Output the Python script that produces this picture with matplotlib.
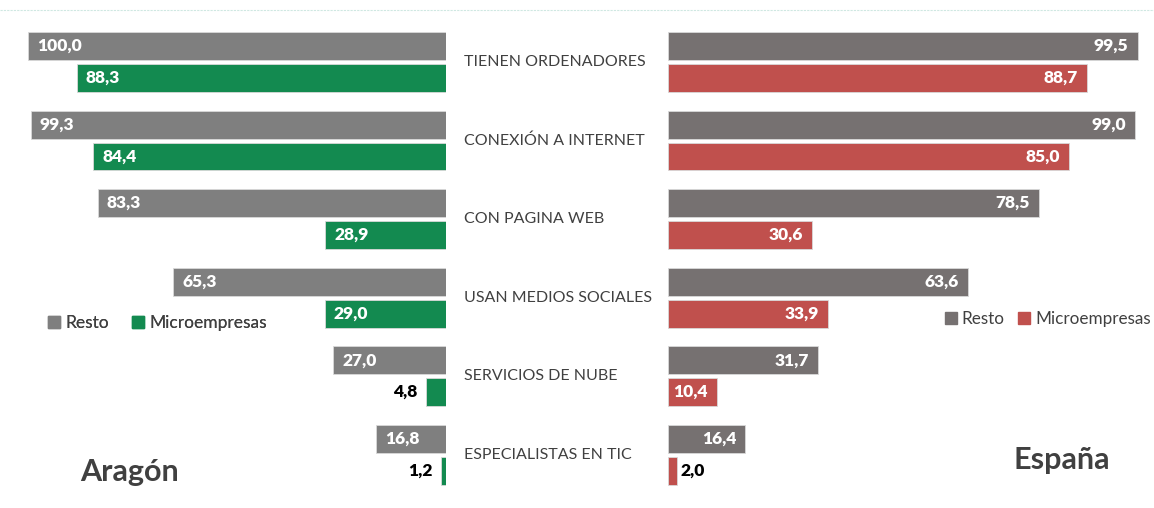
import matplotlib.pyplot as plt
import matplotlib.transforms as mtransforms
from matplotlib.lines import Line2D
from matplotlib.patches import Patch

plt.rcParams['font.family'] = ['Lato', 'DejaVu Sans']

categorias = ['TIENEN ORDENADORES', 'CONEXIÓN A INTERNET', 'CON PAGINA WEB',
              'USAN MEDIOS SOCIALES', 'SERVICIOS DE NUBE', 'ESPECIALISTAS EN TIC']
aragon_resto = [100.0, 99.3, 83.3, 65.3, 27.0, 16.8]
aragon_micro = [88.3, 84.4, 28.9, 29.0, 4.8, 1.2]
espana_resto = [99.5, 99.0, 78.5, 63.6, 31.7, 16.4]
espana_micro = [88.7, 85.0, 30.6, 33.9, 10.4, 2.0]

W, H = 1154, 508
fig = plt.figure(figsize=(W / 100, H / 100), dpi=100)

gris_izq = '#7f7f7f'
gris_der = '#767171'
verde = '#138a50'
rojo = '#c0504d'
texto = '#404040'

top_px, bot_px = 22.7, 494
ax_b = (H - bot_px) / H
ax_h = (bot_px - top_px) / H
axL = fig.add_axes([28 / W, ax_b, 418 / W, ax_h])
axR = fig.add_axes([668 / W, ax_b, 472 / W, ax_h])

pos = list(range(len(categorias)))
alto = 0.356
desp = 0.2035


def fmt(v):
    return f'{v:.1f}'.replace('.', ',')


def dibujar(ax, resto, micro, c_resto, c_micro, izq):
    yr = [p - desp for p in pos]
    ym = [p + desp for p in pos]
    ax.barh(yr, resto, height=alto, color=c_resto, edgecolor='#d9d9d9', linewidth=0.6)
    ax.barh(ym, micro, height=alto, color=c_micro, edgecolor='#d9d9d9', linewidth=0.6)
    s = 1 if izq else -1
    for vals, ys in ((resto, yr), (micro, ym)):
        for v, y in zip(vals, ys):
            if v >= 8:
                ax.annotate(fmt(v), (v, y), xytext=(s * 6.5, 0), textcoords='offset points',
                            ha='left' if izq else 'right', va='center',
                            color='white', fontsize=12.5, fontweight='heavy')
            else:
                ax.annotate(fmt(v), (v, y), xytext=(-s * (6 if izq else 2.5), 0),
                            textcoords='offset points',
                            ha='right' if izq else 'left', va='center',
                            color='black', fontsize=12.5, fontweight='heavy')
    ax.set_ylim(5.5, -0.5)
    ax.set_xlim((100, 0) if izq else (0, 100))
    ax.axis('off')


dibujar(axL, aragon_resto, aragon_micro, gris_izq, verde, True)
dibujar(axR, espana_resto, espana_micro, gris_der, rojo, False)

tr = mtransforms.blended_transform_factory(fig.transFigure, axL.transData)
for p, c in zip(pos, categorias):
    axL.text(464 / W, p, c, transform=tr, ha='left', va='center',
             fontsize=11.5, color=texto)

legL = fig.legend(handles=[Patch(color=gris_izq, label='Resto'), Patch(color=verde, label='Microempresas')],
                  loc='center left', bbox_to_anchor=(48 / W, 1 - 323 / H), ncol=2, frameon=False,
                  fontsize=12.5, handlelength=0.7, handleheight=0.7, handletextpad=0.3,
                  columnspacing=1.3, borderpad=0, borderaxespad=0, labelcolor=texto)
fig.add_artist(legL)
fig.legend(handles=[Patch(color=gris_der, label='Resto'), Patch(color=rojo, label='Microempresas')],
           loc='center right', bbox_to_anchor=(1151 / W, 1 - 319 / H), ncol=2, frameon=False,
           fontsize=12.3, handlelength=0.7, handleheight=0.7, handletextpad=0.3,
           columnspacing=0.8, borderpad=0, borderaxespad=0, labelcolor=texto)

fig.text(80 / W, 1 - 472 / H, 'Aragón', fontsize=22, fontweight='bold', color=texto,
         ha='left', va='center')
fig.text(1110 / W, 1 - 460 / H, 'España', fontsize=22, fontweight='bold', color=texto,
         ha='right', va='center')

fig.add_artist(Line2D([0, 1], [1 - 10 / H, 1 - 10 / H], transform=fig.transFigure,
                      color='#cfe8e2', linewidth=0.8, linestyle=(0, (2, 1))))

fig.savefig('out.png', dpi=100)
